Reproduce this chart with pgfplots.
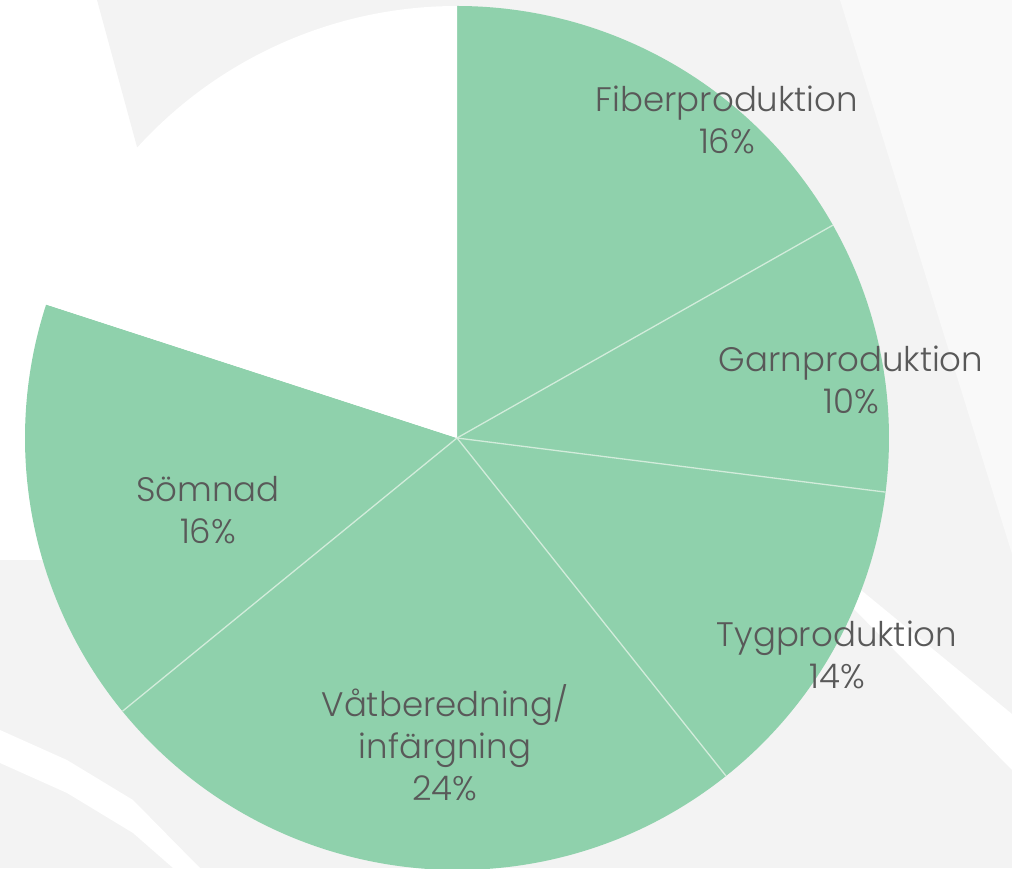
\documentclass[border=0pt]{standalone}
\usepackage{fontspec}
\setmainfont{Poppins Light}
\usepackage{pgfplots}
\pgfplotsset{compat=1.18}
\definecolor{pie}{HTML}{8FD1AC}
\definecolor{sep}{HTML}{D2ECDB}
\definecolor{txt}{HTML}{595959}
\definecolor{bg}{HTML}{F3F3F3}
\definecolor{bglight}{HTML}{F9F9F9}
% slice shares in percent of the full circle (clockwise from 12 o'clock)
\def\vFiber{16.8}
\def\vGarn{10.2}
\def\vTyg{12.3}
\def\vVat{24.8}
\def\vSom{15.9}
\def\vRest{20.0}
\pgfmathsetmacro\aA{90}
\pgfmathsetmacro\aB{\aA-3.6*\vFiber}
\pgfmathsetmacro\aC{\aB-3.6*\vGarn}
\pgfmathsetmacro\aD{\aC-3.6*\vTyg}
\pgfmathsetmacro\aE{\aD-3.6*\vVat}
\pgfmathsetmacro\aF{\aE-3.6*\vSom}
\pgfmathsetmacro\aG{\aF-3.6*\vRest}
\def\cx{457}
\def\cy{430}
\def\R{432pt}
\begin{document}
\begin{tikzpicture}
\begin{axis}[
  scale only axis, x=1pt, y=1pt,
  xmin=0, xmax=1012, ymin=0, ymax=868,
  hide axis, clip=true,
]
% faint background shapes
\fill[bg] (axis cs:97,868) -- (axis cs:470,868) -- (axis cs:470,430) -- (axis cs:137,721) -- cycle;
\fill[bg] (axis cs:457,868) -- (axis cs:1012,868) -- (axis cs:1012,0) -- (axis cs:457,0) -- cycle;
\fill[bglight] (axis cs:840,868) -- (axis cs:1012,868) -- (axis cs:1012,314) -- cycle;
\fill[bg] (axis cs:0,308) -- (axis cs:460,308) -- (axis cs:460,0) -- (axis cs:0,0) -- cycle;
% white bands
\fill[white] (axis cs:0,138) -- (axis cs:67,108) -- (axis cs:133,68) -- (axis cs:200,0)
   -- (axis cs:173,0) -- (axis cs:133,35) -- (axis cs:67,75) -- (axis cs:0,105) -- cycle;
\fill[white] (axis cs:800,328) -- (axis cs:1012,154) -- (axis cs:1012,98) -- (axis cs:800,314) -- cycle;
% pie slices
\fill[pie] (axis cs:\cx,\cy) -- ++(\aA:\R) arc[start angle=\aA, end angle=\aB, radius=\R] -- cycle;
\fill[pie] (axis cs:\cx,\cy) -- ++(\aB:\R) arc[start angle=\aB, end angle=\aC, radius=\R] -- cycle;
\fill[pie] (axis cs:\cx,\cy) -- ++(\aC:\R) arc[start angle=\aC, end angle=\aD, radius=\R] -- cycle;
\fill[pie] (axis cs:\cx,\cy) -- ++(\aD:\R) arc[start angle=\aD, end angle=\aE, radius=\R] -- cycle;
\fill[pie] (axis cs:\cx,\cy) -- ++(\aE:\R) arc[start angle=\aE, end angle=\aF, radius=\R] -- cycle;
\fill[white] (axis cs:\cx,\cy) -- ++(\aF:\R) arc[start angle=\aF, end angle=\aG, radius=\R] -- cycle;
% separators
\draw[sep, line width=1.3pt] (axis cs:\cx,\cy) -- ++(\aB:\R);
\draw[sep, line width=1.3pt] (axis cs:\cx,\cy) -- ++(\aC:\R);
\draw[sep, line width=1.3pt] (axis cs:\cx,\cy) -- ++(\aD:\R);
\draw[sep, line width=1.3pt] (axis cs:\cx,\cy) -- ++(\aE:\R);
% labels
\node[text=txt, align=center, font=\fontsize{34}{42}\selectfont, inner sep=0pt] at (axis cs:727,748) {Fiberproduktion\\16\%};
\node[text=txt, align=center, font=\fontsize{34}{42}\selectfont, inner sep=0pt] at (axis cs:851,488) {Garnproduktion\\10\%};
\node[text=txt, align=center, font=\fontsize{34}{42}\selectfont, inner sep=0pt] at (axis cs:837,213) {Tygproduktion\\14\%};
\node[text=txt, align=center, font=\fontsize{34}{42}\selectfont, inner sep=0pt] at (axis cs:445,125) {Våtberedning/\\infärgning\\24\%};
\node[text=txt, align=center, font=\fontsize{34}{42}\selectfont, inner sep=0pt] at (axis cs:208,358) {Sömnad\\16\%};
\end{axis}
\end{tikzpicture}
\end{document}
